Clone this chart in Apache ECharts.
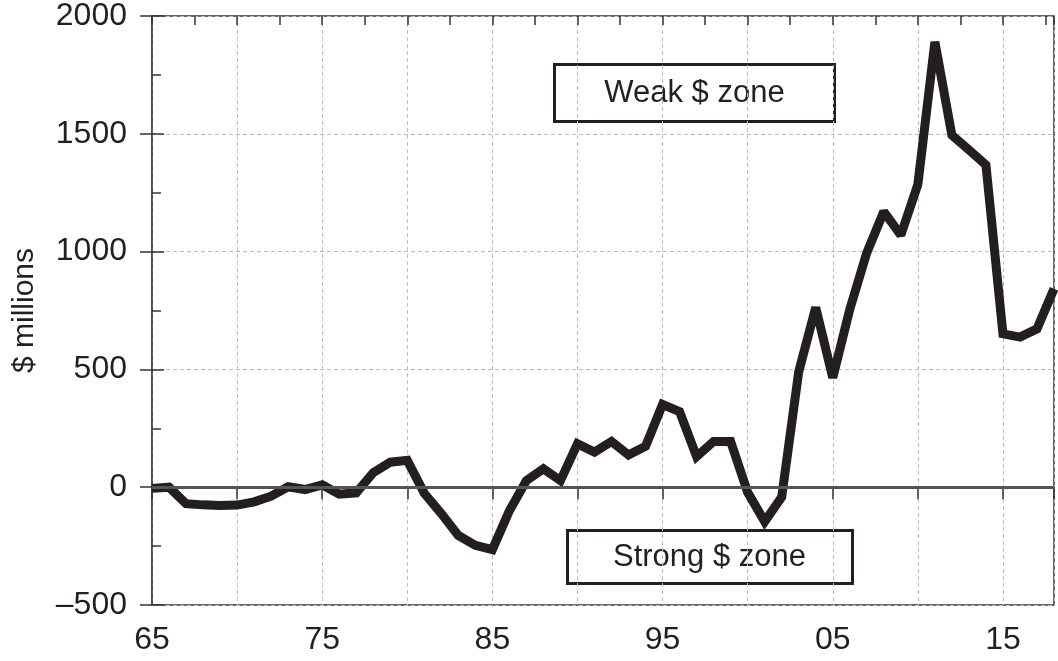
<!DOCTYPE html>
<html>
<head>
<meta charset="utf-8">
<script src="https://cdn.jsdelivr.net/npm/echarts@6/dist/echarts.min.js"></script>
<style>
  html, body { margin: 0; padding: 0; background: #fff; }
  #chart { width: 1058px; height: 661px; }
</style>
</head>
<body>
<div id="chart"></div>
<script>
// years 1965 - 2018
const years = [
  1965, 1966, 1967, 1968, 1969, 1970, 1971, 1972, 1973, 1974,
  1975, 1976, 1977, 1978, 1979, 1980, 1981, 1982, 1983, 1984,
  1985, 1986, 1987, 1988, 1989, 1990, 1991, 1992, 1993, 1994,
  1995, 1996, 1997, 1998, 1999, 2000, 2001, 2002, 2003, 2004,
  2005, 2006, 2007, 2008, 2009, 2010, 2011, 2012, 2013, 2014,
  2015, 2016, 2017, 2018
];
// $ millions
const values = [
  -5, 0, -70, -75, -78, -76, -62, -38, 2, -10,
  10, -30, -24, 62, 106, 114, -26, -112, -205, -247,
  -265, -100, 28, 78, 28, 184, 149, 194, 137, 174,
  351, 321, 130, 194, 194, -22, -146, -42, 490, 763,
  465, 755, 995, 1170, 1070, 1285, 1890, 1494, 1432, 1368,
  651, 637, 672, 842
];
const yTicks = [-500, 0, 500, 1000, 1500, 2000];
const zoneLabels = ['Weak $ zone', 'Strong $ zone'];

const ink = '#231f20';
const font = 'Liberation Sans, Arial, Helvetica, sans-serif';

const chart = echarts.init(document.getElementById('chart'));

const xBase = {
  type: 'value',
  min: years[0],
  max: years[years.length - 1],
  axisLine: { show: false },
  axisLabel: { show: false },
  splitLine: { show: false },
};

const option = {
  animation: false,
  grid: {
    left: 152, right: 4, top: 15, bottom: 56,
    show: true,
    borderColor: '#333',
    borderWidth: 1.5,
    backgroundColor: 'transparent'
  },
  xAxis: [{
    type: 'value',
    min: years[0],
    max: years[years.length - 1],
    interval: 5,
    axisLine: { lineStyle: { color: '#444', width: 1.5 } },
    axisTick: { length: 12, lineStyle: { color: '#333', width: 1.5 } },
    axisLabel: {
      margin: 19,
      color: ink,
      fontSize: 32,
      fontFamily: font,
      formatter: v => ((v - years[0]) % 10 === 0) ? String(v % 100).padStart(2, '0') : ''
    },
    splitLine: { show: true, lineStyle: { color: '#bdbdbd', type: [4, 3], width: 1 } }
  }, {
    ...xBase,
    interval: 5,
    axisTick: { inside: true, length: 12, lineStyle: { color: '#333', width: 1.5 } }
  }, {
    ...xBase,
    interval: 2.5,
    axisTick: { inside: true, length: 9, lineStyle: { color: '#333', width: 1.5 } }
  }],
  yAxis: [{
    type: 'value',
    min: yTicks[0],
    max: yTicks[yTicks.length - 1],
    interval: 500,
    name: '$ millions',
    nameLocation: 'middle',
    nameGap: 112,
    nameTextStyle: { color: ink, fontSize: 30, fontFamily: font },
    axisLine: { show: true, lineStyle: { color: '#444', width: 1.5 } },
    axisTick: { length: 12, lineStyle: { color: '#333', width: 1.5 } },
    axisLabel: {
      margin: 25,
      color: ink,
      fontSize: 32,
      fontFamily: font,
      formatter: v => v < 0 ? '\u2013' + Math.abs(v) : String(v)
    },
    splitLine: { show: true, lineStyle: { color: '#bdbdbd', type: [4, 3], width: 1 } }
  }, {
    type: 'value',
    min: yTicks[0],
    max: yTicks[yTicks.length - 1],
    interval: 500,
    position: 'left',
    axisLine: { show: false },
    axisLabel: { show: false },
    splitLine: { show: false },
    axisTick: { inside: true, length: 12, lineStyle: { color: '#333', width: 1.5 } },
    minorTick: { show: true, splitNumber: 2, length: 9, lineStyle: { color: '#333', width: 1.5 } }
  }],
  series: [{
    type: 'line',
    xAxisIndex: 0,
    yAxisIndex: 0,
    data: years.map((y, i) => [y, values[i]]),
    symbol: 'none',
    lineStyle: { color: ink, width: 9, join: 'miter', miterLimit: 2 },
    markLine: {
      silent: true,
      symbol: 'none',
      label: { show: false },
      lineStyle: { color: '#555', width: 3, type: 'solid' },
      data: [{ yAxis: 0 }]
    }
  }],
  graphic: [{
    type: 'group',
    left: 553,
    top: 63,
    z: 100,
    children: [{
      type: 'rect',
      shape: { x: 0, y: 0, width: 280, height: 57 },
      style: { fill: '#fff', stroke: ink, lineWidth: 3 }
    }, {
      type: 'text',
      x: 140, y: 29,
      style: {
        text: zoneLabels[0], fill: ink, fontSize: 31, fontFamily: font,
        align: 'center', verticalAlign: 'middle'
      }
    }]
  }, {
    type: 'group',
    left: 566,
    top: 529,
    z: 100,
    children: [{
      type: 'rect',
      shape: { x: 0, y: 0, width: 285, height: 53 },
      style: { fill: '#fff', stroke: ink, lineWidth: 3 }
    }, {
      type: 'text',
      x: 142, y: 27,
      style: {
        text: zoneLabels[1], fill: ink, fontSize: 31, fontFamily: font,
        align: 'center', verticalAlign: 'middle'
      }
    }]
  }]
};

chart.setOption(option);
</script>
</body>
</html>
